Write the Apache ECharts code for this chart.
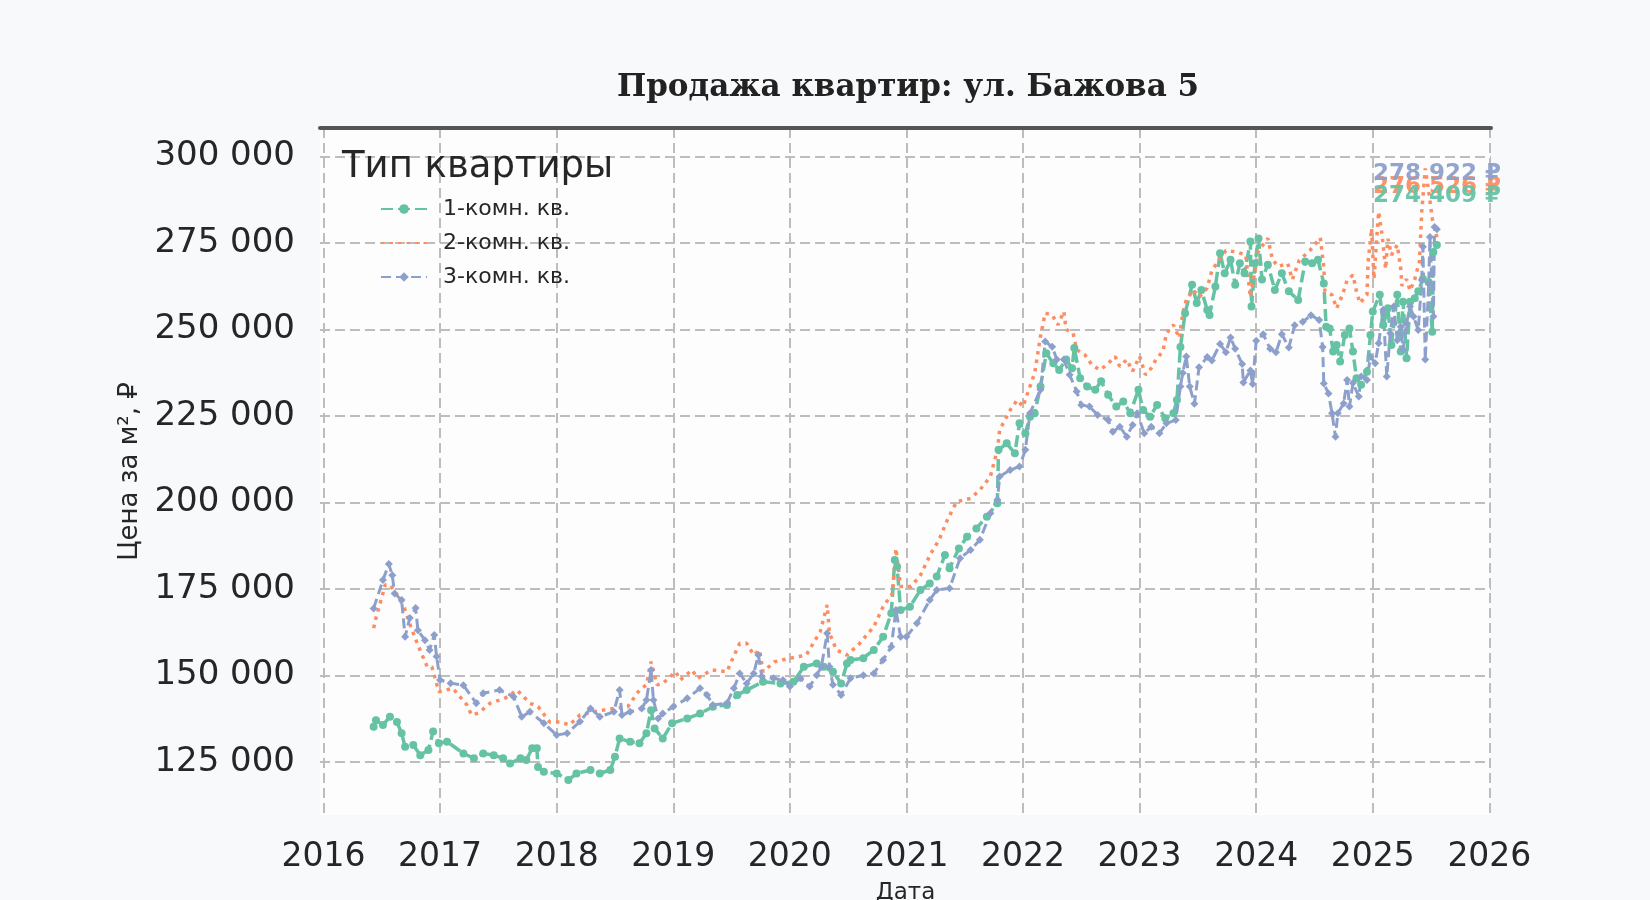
<!DOCTYPE html>
<html>
<head>
<meta charset="utf-8">
<title>Продажа квартир: ул. Бажова 5</title>
<script src="https://cdn.jsdelivr.net/npm/echarts@6/dist/echarts.min.js"></script>
<style>
  html, body { margin: 0; padding: 0; background: #f8f9fa; }
  #chart { width: 1650px; height: 900px; }
</style>
</head>
<body>
<div id="chart"></div>
<script>
// цены за м² (год в долях, руб.)
const oneRoomYears = [2016.43, 2016.45, 2016.51, 2016.57, 2016.63, 2016.67, 2016.70, 2016.77, 2016.83, 2016.90, 2016.94, 2016.99, 2017.06, 2017.20, 2017.29, 2017.37, 2017.46, 2017.54, 2017.60, 2017.69, 2017.74, 2017.79, 2017.83, 2017.84, 2017.89, 2018.00, 2018.10, 2018.17, 2018.29, 2018.37, 2018.46, 2018.50, 2018.54, 2018.63, 2018.71, 2018.77, 2018.81, 2018.84, 2018.91, 2018.99, 2019.12, 2019.23, 2019.34, 2019.46, 2019.55, 2019.63, 2019.77, 2019.92, 2020.03, 2020.12, 2020.23, 2020.29, 2020.37, 2020.44, 2020.49, 2020.52, 2020.63, 2020.72, 2020.80, 2020.87, 2020.90, 2020.92, 2020.95, 2021.03, 2021.12, 2021.20, 2021.26, 2021.33, 2021.37, 2021.45, 2021.52, 2021.60, 2021.69, 2021.78, 2021.79, 2021.86, 2021.93, 2021.97, 2022.02, 2022.06, 2022.10, 2022.15, 2022.20, 2022.26, 2022.31, 2022.37, 2022.42, 2022.44, 2022.49, 2022.55, 2022.62, 2022.67, 2022.73, 2022.80, 2022.86, 2022.92, 2022.99, 2023.03, 2023.09, 2023.15, 2023.22, 2023.29, 2023.32, 2023.35, 2023.39, 2023.45, 2023.49, 2023.53, 2023.58, 2023.60, 2023.65, 2023.69, 2023.73, 2023.78, 2023.82, 2023.86, 2023.90, 2023.95, 2023.96, 2023.99, 2024.02, 2024.05, 2024.10, 2024.16, 2024.22, 2024.28, 2024.36, 2024.42, 2024.48, 2024.53, 2024.58, 2024.60, 2024.63, 2024.66, 2024.69, 2024.72, 2024.76, 2024.80, 2024.83, 2024.86, 2024.90, 2024.95, 2024.98, 2025.00, 2025.06, 2025.09, 2025.13, 2025.16, 2025.21, 2025.24, 2025.26, 2025.29, 2025.32, 2025.36, 2025.39, 2025.43, 2025.48, 2025.51, 2025.52, 2025.55];
const oneRoomPrices = [135200, 137100, 135700, 138100, 136600, 133300, 129400, 129900, 127000, 128500, 133800, 130400, 130900, 127500, 126100, 127500, 127000, 126100, 124600, 126100, 125600, 129000, 129000, 123600, 122200, 121700, 119800, 121700, 122700, 121700, 122700, 126500, 131800, 130900, 130400, 133300, 140000, 134700, 131800, 136200, 137600, 139000, 141000, 141500, 144400, 145800, 148200, 147700, 148200, 152500, 153500, 152500, 151100, 147700, 153500, 154500, 155000, 157400, 161200, 168000, 183400, 181400, 168900, 169900, 174700, 176600, 178600, 184800, 181000, 186700, 190100, 192500, 195900, 199800, 215200, 217100, 214200, 222900, 220000, 224800, 225800, 233500, 243100, 240200, 238300, 241300, 238800, 244600, 235900, 233500, 232600, 235000, 231100, 227700, 229200, 225800, 232600, 226700, 224800, 228200, 224300, 225800, 229600, 244900, 254700, 262900, 257600, 261400, 255600, 254200, 262400, 272000, 266200, 270100, 262900, 269100, 266200, 275400, 256600, 269100, 276300, 264400, 268700, 261400, 266200, 261000, 258500, 269600, 269100, 270100, 263300, 250800, 250300, 243600, 245500, 240700, 248400, 250300, 243600, 235900, 234000, 237800, 248400, 255200, 260000, 251300, 256100, 245500, 260000, 243600, 258000, 241700, 258000, 259000, 261000, 264600, 263600, 249300, 272400, 274409];

const twoRoomYears = [2016.43, 2016.45, 2016.53, 2016.57, 2016.63, 2016.69, 2016.76, 2016.81, 2016.89, 2016.93, 2016.99, 2017.11, 2017.23, 2017.27, 2017.33, 2017.43, 2017.56, 2017.66, 2017.77, 2017.84, 2017.94, 2018.03, 2018.11, 2018.20, 2018.31, 2018.49, 2018.61, 2018.71, 2018.77, 2018.81, 2018.86, 2018.91, 2019.02, 2019.06, 2019.16, 2019.21, 2019.33, 2019.46, 2019.53, 2019.57, 2019.63, 2019.69, 2019.74, 2019.77, 2019.87, 2020.00, 2020.14, 2020.26, 2020.32, 2020.34, 2020.40, 2020.49, 2020.60, 2020.72, 2020.80, 2020.88, 2020.91, 2020.95, 2021.04, 2021.12, 2021.21, 2021.28, 2021.35, 2021.43, 2021.55, 2021.63, 2021.72, 2021.78, 2021.80, 2021.89, 2021.95, 2022.00, 2022.05, 2022.10, 2022.15, 2022.19, 2022.25, 2022.30, 2022.35, 2022.37, 2022.43, 2022.46, 2022.53, 2022.59, 2022.66, 2022.72, 2022.79, 2022.83, 2022.89, 2022.94, 2023.00, 2023.05, 2023.10, 2023.14, 2023.20, 2023.23, 2023.29, 2023.34, 2023.37, 2023.40, 2023.46, 2023.51, 2023.58, 2023.62, 2023.74, 2023.83, 2023.91, 2023.95, 2023.98, 2024.02, 2024.10, 2024.14, 2024.19, 2024.27, 2024.31, 2024.37, 2024.46, 2024.55, 2024.58, 2024.59, 2024.65, 2024.69, 2024.74, 2024.78, 2024.83, 2024.86, 2024.89, 2024.95, 2024.96, 2024.99, 2025.01, 2025.05, 2025.08, 2025.11, 2025.13, 2025.16, 2025.21, 2025.24, 2025.25, 2025.29, 2025.32, 2025.36, 2025.40, 2025.42, 2025.45, 2025.48, 2025.51, 2025.54, 2025.55];
const twoRoomPrices = [163700, 166600, 176200, 176200, 173300, 169900, 163100, 158800, 152500, 152500, 145300, 146300, 141500, 138600, 139200, 142000, 143500, 145800, 142000, 141000, 136600, 136600, 135700, 138600, 139500, 140500, 141000, 145800, 147300, 154000, 147300, 147700, 151100, 148700, 151600, 149200, 151600, 151100, 156400, 159300, 159300, 155900, 157400, 151100, 154000, 155000, 155900, 162600, 170400, 162200, 157400, 155900, 159300, 164100, 169900, 173700, 186700, 175700, 175700, 179000, 185300, 189200, 194900, 200200, 201200, 203600, 207500, 215200, 221000, 226700, 229600, 227700, 232600, 237400, 248000, 254700, 254200, 251300, 255200, 250000, 248900, 244100, 242700, 239800, 238300, 239800, 242200, 239300, 241300, 237900, 242200, 236900, 238800, 241300, 243700, 248900, 251300, 247500, 254700, 258500, 261400, 259300, 262000, 267100, 272800, 272400, 271500, 259300, 265100, 272800, 276300, 270100, 268200, 269100, 264400, 270000, 272800, 276500, 268000, 261000, 260000, 256100, 260000, 264300, 265700, 261000, 257600, 260000, 269600, 279200, 264600, 284000, 277200, 267500, 276200, 271500, 274400, 267500, 262600, 264500, 261200, 264500, 269600, 284000, 296500, 289800, 282100, 278200, 276526];

const threeRoomYears = [2016.43, 2016.51, 2016.56, 2016.59, 2016.61, 2016.67, 2016.70, 2016.74, 2016.79, 2016.81, 2016.87, 2016.91, 2016.95, 2016.97, 2017.00, 2017.09, 2017.20, 2017.31, 2017.37, 2017.51, 2017.63, 2017.70, 2017.77, 2017.89, 2018.00, 2018.09, 2018.20, 2018.29, 2018.37, 2018.49, 2018.54, 2018.56, 2018.63, 2018.73, 2018.77, 2018.81, 2018.83, 2018.87, 2018.91, 2019.00, 2019.12, 2019.23, 2019.29, 2019.34, 2019.46, 2019.52, 2019.57, 2019.63, 2019.69, 2019.73, 2019.76, 2019.86, 2019.94, 2020.00, 2020.09, 2020.17, 2020.23, 2020.27, 2020.32, 2020.34, 2020.37, 2020.44, 2020.52, 2020.63, 2020.72, 2020.80, 2020.87, 2020.91, 2020.95, 2021.00, 2021.09, 2021.20, 2021.26, 2021.37, 2021.46, 2021.55, 2021.63, 2021.72, 2021.78, 2021.80, 2021.89, 2021.97, 2022.02, 2022.06, 2022.15, 2022.19, 2022.25, 2022.29, 2022.35, 2022.40, 2022.46, 2022.50, 2022.57, 2022.64, 2022.73, 2022.77, 2022.83, 2022.89, 2022.94, 2022.98, 2023.04, 2023.10, 2023.17, 2023.23, 2023.31, 2023.35, 2023.37, 2023.40, 2023.43, 2023.47, 2023.51, 2023.58, 2023.62, 2023.69, 2023.74, 2023.78, 2023.82, 2023.88, 2023.89, 2023.95, 2023.97, 2024.00, 2024.06, 2024.12, 2024.17, 2024.22, 2024.28, 2024.33, 2024.40, 2024.47, 2024.54, 2024.57, 2024.58, 2024.62, 2024.65, 2024.68, 2024.70, 2024.75, 2024.78, 2024.80, 2024.83, 2024.88, 2024.90, 2024.95, 2024.98, 2025.02, 2025.05, 2025.09, 2025.12, 2025.15, 2025.18, 2025.21, 2025.24, 2025.26, 2025.29, 2025.32, 2025.35, 2025.39, 2025.42, 2025.43, 2025.45, 2025.48, 2025.49, 2025.52, 2025.53, 2025.55];
const threeRoomPrices = [169400, 177600, 182200, 179000, 173700, 171800, 161200, 166600, 169500, 163100, 160200, 157400, 161700, 155500, 148700, 147800, 147200, 142000, 144900, 145800, 143900, 138100, 139500, 136200, 132800, 133300, 136700, 140500, 138100, 139500, 145800, 138600, 139500, 140500, 142900, 151600, 142900, 137600, 139000, 141000, 143400, 146300, 144400, 141500, 142000, 146300, 150600, 147700, 150600, 155900, 149700, 149200, 148700, 146800, 149200, 146800, 150100, 152500, 162200, 152500, 147300, 144400, 149200, 150100, 150600, 154500, 158300, 168900, 161200, 161200, 165100, 171800, 174700, 175200, 183900, 186300, 189200, 196900, 200800, 207500, 209400, 210400, 215200, 225800, 232600, 246500, 245000, 241300, 241300, 236900, 232100, 228200, 227700, 225300, 223800, 220400, 221900, 219000, 222400, 225800, 220000, 221900, 220000, 222900, 223800, 233500, 237400, 242200, 233500, 228500, 239100, 242000, 241000, 245800, 243400, 247700, 244400, 240000, 234700, 238100, 234200, 246700, 248600, 244400, 243400, 248600, 244800, 251200, 252200, 254100, 252700, 244900, 234400, 231500, 225800, 219000, 225800, 228600, 235400, 227700, 234500, 230600, 236400, 235400, 242200, 240200, 246000, 255700, 236400, 248900, 256600, 246900, 250800, 244100, 251800, 256600, 253700, 249800, 264300, 273900, 241300, 263300, 276700, 253700, 279600, 278922];

const seriesNames = ['1-комн. кв.', '2-комн. кв.', '3-комн. кв.'];
const lastLabels = ['274 409 ₽', '276 526 ₽', '278 922 ₽'];
const yearTicks = [2016, 2017, 2018, 2019, 2020, 2021, 2022, 2023, 2024, 2025, 2026];
const priceTicks = [125000, 150000, 175000, 200000, 225000, 250000, 275000, 300000];

const colors = ['#66c2a5', '#fc8d62', '#8da0cb'];
const labelShiftY = [-49, -51, -55];
const fontFamily = 'DejaVu Sans';

function pairs(xs, ys) {
  return xs.map((x, i) => [x, ys[i]]);
}

function fmtThousands(v) {
  return String(v).replace(/\B(?=(\d{3})+(?!\d))/g, ' ');
}

function endLabel(i) {
  return {
    show: true,
    formatter: () => lastLabels[i],
    color: colors[i],
    fontFamily: fontFamily,
    fontWeight: 'bold',
    fontSize: 23,
    distance: 0,
    offset: [-64, labelShiftY[i]],
    opacity: 0.95
  };
}

const chart = echarts.init(document.getElementById('chart'), null, { renderer: 'canvas' });

const option = {
  backgroundColor: '#f8f9fa',
  animation: false,
  textStyle: { fontFamily: fontFamily },
  title: [
    {
      text: 'Продажа квартир: ул. Бажова 5',
      left: 903,
      top: 67,
      textAlign: 'center',
      textStyle: { fontFamily: 'DejaVu Serif', fontWeight: 'bold', fontSize: 31, color: '#222222' }
    },
    {
      text: 'Тип квартиры',
      left: 337,
      top: 144,
      textStyle: { fontFamily: fontFamily, fontWeight: 'normal', fontSize: 37, color: '#262626' }
    }
  ],
  legend: {
    orient: 'vertical',
    left: 375,
    top: 193,
    itemWidth: 46,
    itemHeight: 12,
    itemGap: 12,
    textStyle: { fontFamily: fontFamily, fontSize: 22, color: '#262626', padding: [0, 0, 0, 11] },
    data: [
      { name: seriesNames[0] },
      { name: seriesNames[1], itemStyle: { opacity: 0 } },
      { name: seriesNames[2] }
    ]
  },
  grid: {
    left: 320, right: 159, top: 128, bottom: 85,
    outerBoundsMode: 'none',
    show: true, backgroundColor: '#fdfdfd', borderWidth: 0
  },
  xAxis: [
    {
      type: 'value',
      min: 2015.97,
      max: 2026.014,
      name: 'Дата',
      nameLocation: 'middle',
      nameGap: 67,
      nameTextStyle: { fontSize: 23, color: '#262626' },
      axisLine: { show: false },
      axisTick: { show: false, customValues: yearTicks },
      axisLabel: { customValues: yearTicks, fontSize: 33, color: '#262626', margin: 26, formatter: v => String(Math.round(v)) },
      splitLine: { show: true, lineStyle: { color: '#bdbdbd', width: 2, type: [10, 5] } }
    },
    {
      type: 'value',
      position: 'top',
      min: 2015.97,
      max: 2026.014,
      axisLine: { show: true, lineStyle: { color: '#555555', width: 4 } },
      axisTick: { show: false },
      axisLabel: { show: false },
      splitLine: { show: false }
    }
  ],
  yAxis: {
    type: 'value',
    min: 109700,
    max: 308200,
    name: 'Цена за м², ₽',
    nameLocation: 'middle',
    nameGap: 176,
    nameTextStyle: { fontSize: 26, color: '#262626' },
    axisLine: { show: false },
    axisTick: { show: false, customValues: priceTicks },
    axisLabel: { customValues: priceTicks, fontSize: 34, color: '#262626', margin: 25, formatter: fmtThousands },
    splitLine: { show: true, lineStyle: { color: '#bdbdbd', width: 2, type: [10, 5] } }
  },
  series: [
    {
      name: seriesNames[0],
      type: 'line',
      data: pairs(oneRoomYears, oneRoomPrices),
      color: colors[0],
      symbol: 'circle',
      symbolSize: 8,
      lineStyle: { width: 3.5, type: [12, 5] },
      endLabel: endLabel(0)
    },
    {
      name: seriesNames[1],
      type: 'line',
      data: pairs(twoRoomYears, twoRoomPrices),
      color: colors[1],
      symbol: 'none',
      lineStyle: { width: 3.5, type: [3.5, 5] },
      endLabel: endLabel(1)
    },
    {
      name: seriesNames[2],
      type: 'line',
      data: pairs(threeRoomYears, threeRoomPrices),
      color: colors[2],
      symbol: 'diamond',
      symbolSize: 8,
      lineStyle: { width: 3, type: [10, 5] },
      endLabel: endLabel(2)
    }
  ]
};

chart.setOption(option);
</script>
</body>
</html>
